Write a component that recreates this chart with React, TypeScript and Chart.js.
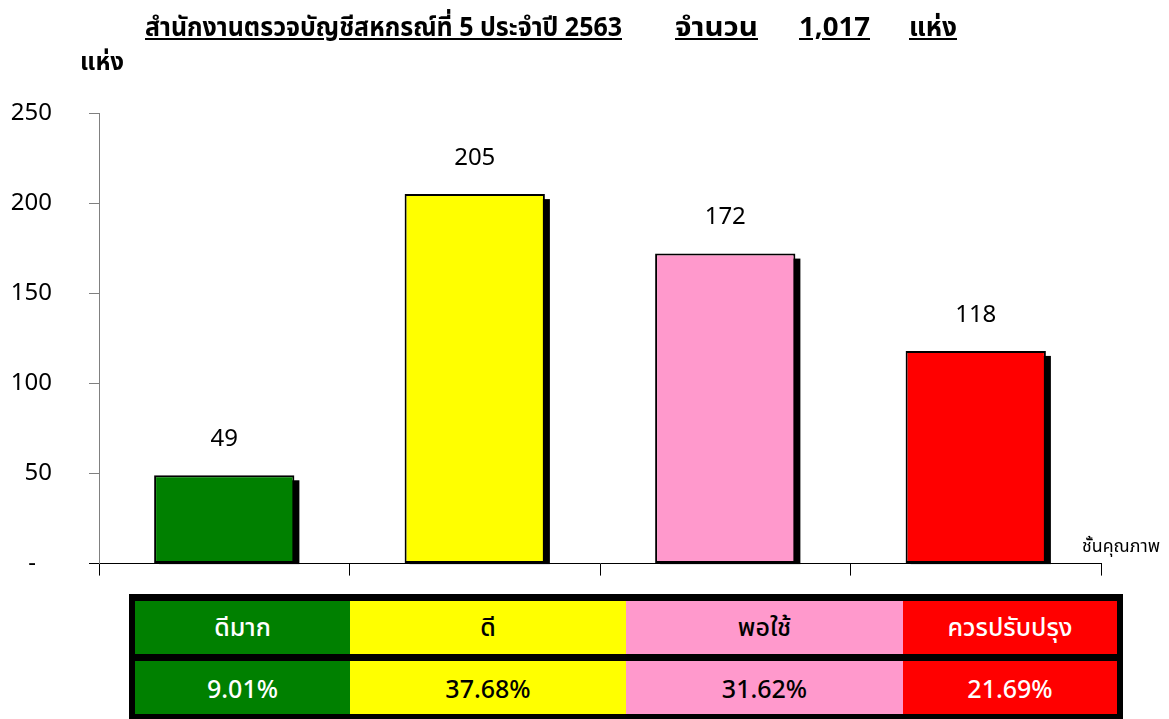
import React, { useEffect, useLayoutEffect, useRef } from 'react';
import { Chart, registerables } from 'chart.js';

Chart.register(...registerables);

const categories = ['ดีมาก', 'ดี', 'พอใช้', 'ควรปรับปรุง'];
const counts = [49, 205, 172, 118];
const percents = ['9.01%', '37.68%', '31.62%', '21.69%'];
const barColors = ['#008000', '#FFFF00', '#FF99CC', '#FF0000'];
const tableTextColors = ['#FFFFFF', '#000000', '#000000', '#FFFFFF'];
const yMin = 0;
const yMax = 250;
const yStep = 50;
const zeroTickLabel = '-\u2002\u2009';
const titleMain = 'สำนักงานตรวจบัญชีสหกรณ์ที่ 5 ประจำปี 2563';
const titleCountLabel = 'จำนวน';
const titleCount = '1,017';
const titleUnit = 'แห่ง';
const yAxisTitle = 'แห่ง';
const xAxisTitle = 'ชั้นคุณภาพ';

const FONT = "'Noto Sans', 'Noto Sans Thai', Lato, sans-serif";

const shadowPlugin = {
  id: 'barShadow',
  beforeDatasetsDraw(chart: any) {
    const ctx = chart.ctx;
    const meta = chart.getDatasetMeta(0);
    ctx.save();
    ctx.fillStyle = '#000000';
    meta.data.forEach((bar: any) => {
      const { x, y, base, width } = bar.getProps(['x', 'y', 'base', 'width'], true);
      ctx.fillRect(x - width / 2 + 5, y + 5, width, base - y - 4);
    });
    ctx.restore();
  },
};

const valueLabelPlugin = {
  id: 'valueLabels',
  afterDatasetsDraw(chart: any) {
    const ctx = chart.ctx;
    const meta = chart.getDatasetMeta(0);
    const data = chart.data.datasets[0].data;
    ctx.save();
    ctx.fillStyle = '#000000';
    ctx.font = `24px ${FONT}`;
    ctx.textAlign = 'center';
    ctx.textBaseline = 'middle';
    meta.data.forEach((bar: any, i: number) => {
      const { x, y } = bar.getProps(['x', 'y'], true);
      ctx.fillText(String(data[i]), x, y - 36);
    });
    ctx.restore();
  },
};

function BarChart() {
  const ref = useRef<HTMLCanvasElement | null>(null);
  useEffect(() => {
    if (!ref.current) return;
    const chart = new Chart(ref.current, {
      type: 'bar',
      data: {
        labels: categories,
        datasets: [
          {
            data: counts,
            backgroundColor: barColors,
            borderColor: '#000000',
            borderWidth: 2,
            borderSkipped: false,
            categoryPercentage: 1,
            barPercentage: 0.56,
          },
        ],
      },
      options: {
        animation: false,
        responsive: false,
        maintainAspectRatio: false,
        layout: { padding: { left: 0, top: 113, right: 68, bottom: 15 } },
        plugins: {
          legend: { display: false },
          tooltip: { enabled: false },
          title: { display: false },
        },
        scales: {
          x: {
            type: 'category',
            offset: true,
            grid: {
              offset: true,
              drawOnChartArea: false,
              drawTicks: true,
              tickLength: 12,
              color: '#000000',
            },
            border: { color: '#000000', width: 1 },
            ticks: { display: false },
            afterFit: (s: any) => {
              s.height = 12;
            },
          },
          y: {
            min: yMin,
            max: yMax,
            ticks: {
              stepSize: yStep,
              color: '#000000',
              padding: 37,
              font: { family: FONT, size: 24 },
              callback: (v: any) => (Number(v) === 0 ? zeroTickLabel : String(v)),
            },
            grid: {
              drawOnChartArea: false,
              tickLength: 10,
              color: (c: any) => (c.tick && c.tick.value === 0 ? '#000000' : '#808080'),
            },
            border: { color: '#808080', width: 1 },
            afterFit: (s: any) => {
              s.width = 99;
            },
          },
        },
      },
      plugins: [shadowPlugin, valueLabelPlugin],
    } as any);
    return () => chart.destroy();
  }, []);
  return (
    <canvas
      ref={ref}
      width={1169}
      height={615}
      style={{ position: 'absolute', left: 0, top: 0, width: 1169, height: 615 }}
    />
  );
}

function FitText(props: { text: string; left: number; top: number; width: number; style?: React.CSSProperties }) {
  const ref = useRef<HTMLSpanElement | null>(null);
  useLayoutEffect(() => {
    const el = ref.current;
    if (!el) return;
    el.style.transform = 'none';
    const w = el.getBoundingClientRect().width;
    if (w > 0) el.style.transform = `scaleX(${props.width / w})`;
  }, [props.text, props.width]);
  return (
    <span
      ref={ref}
      style={{
        position: 'absolute',
        left: props.left,
        top: props.top,
        display: 'inline-block',
        whiteSpace: 'nowrap',
        transformOrigin: 'left top',
        fontFamily: FONT,
        color: '#000',
        ...props.style,
      }}
    >
      {props.text}
    </span>
  );
}

const colWidths = [215, 276, 277, 214];

export default function App() {
  const titleStyle: React.CSSProperties = {
    fontWeight: 'bold',
    fontSize: 26,
    textDecoration: 'underline',
    lineHeight: '32px',
  };
  const cell = (w: number, bg: string, fg: string, text: string, key: string) => (
    <div
      key={key}
      style={{
        width: w,
        height: 53,
        background: bg,
        color: fg,
        display: 'flex',
        alignItems: 'center',
        justifyContent: 'center',
        fontFamily: FONT,
        fontWeight: 500,
        fontSize: 25,
      }}
    >
      {text}
    </div>
  );
  return (
    <div style={{ position: 'fixed', left: 0, top: 0, width: 1169, height: 719, background: '#fff', overflow: 'hidden' }}>
      <BarChart />
      <FitText text={titleMain} left={145} top={10} width={477} style={titleStyle} />
      <FitText text={titleCountLabel} left={675} top={10} width={83} style={titleStyle} />
      <FitText text={titleCount} left={799} top={10} width={71} style={titleStyle} />
      <FitText text={titleUnit} left={909} top={10} width={48} style={titleStyle} />
      <FitText
        text={yAxisTitle}
        left={80}
        top={45}
        width={44}
        style={{ fontWeight: 'bold', fontSize: 24, lineHeight: '32px' }}
      />
      <FitText text={xAxisTitle} left={1082} top={533} width={78} style={{ fontSize: 17, lineHeight: '26px' }} />
      <div
        style={{
          position: 'absolute',
          left: 129,
          top: 594,
          width: 994,
          background: '#000',
          padding: '7px 6px 6px 6px',
          boxSizing: 'border-box',
        }}
      >
        <div style={{ display: 'flex' }}>
          {categories.map((c, i) => cell(colWidths[i], barColors[i], tableTextColors[i], c, 'c' + i))}
        </div>
        <div style={{ height: 7 }} />
        <div style={{ display: 'flex' }}>
          {percents.map((p, i) => cell(colWidths[i], barColors[i], tableTextColors[i], p, 'p' + i))}
        </div>
      </div>
    </div>
  );
}
